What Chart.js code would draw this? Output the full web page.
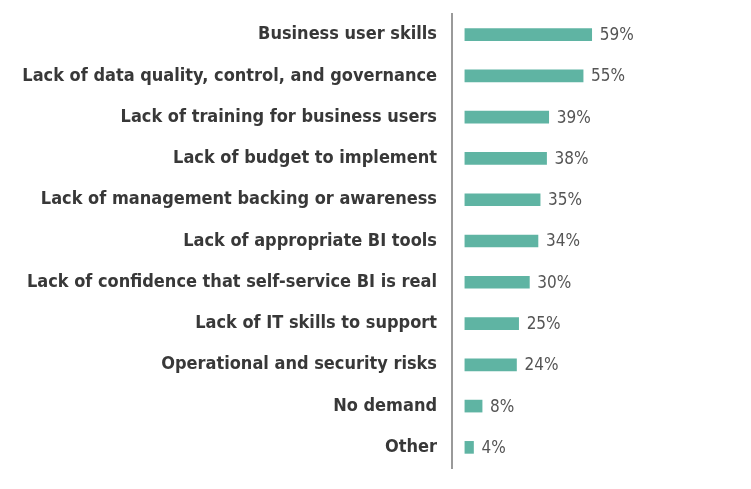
<!DOCTYPE html>
<html>
<head>
<meta charset="utf-8">
<script src="https://cdn.jsdelivr.net/npm/chart.js@4/dist/chart.umd.min.js"></script>
<style>
  html, body { margin: 0; padding: 0; background: #fff; }
  #wrap { width: 751px; height: 489px; }
</style>
</head>
<body>
<div id="wrap"><canvas id="chart"></canvas></div>
<script>
const categories = [
    'Business user skills',
    'Lack of data quality, control, and governance',
    'Lack of training for business users',
    'Lack of budget to implement',
    'Lack of management backing or awareness',
    'Lack of appropriate BI tools',
    'Lack of confidence that self-service BI is real',
    'Lack of IT skills to support',
    'Operational and security risks',
    'No demand',
    'Other'
];
const percents = [59, 55, 39, 38, 35, 34, 30, 25, 24, 8, 4];

// value labels after each bar
const valueLabels = {
    id: 'valueLabels',
    afterDatasetsDraw(chart) {
        const ctx = chart.ctx;
        const meta = chart.getDatasetMeta(0);
        ctx.save();
        ctx.font = '17px "DejaVu Sans Condensed", sans-serif';
        ctx.fillStyle = '#555555';
        ctx.textAlign = 'left';
        ctx.textBaseline = 'middle';
        meta.data.forEach(function (bar, i) {
            ctx.fillText(percents[i] + '%', bar.x + 8, bar.y + 1);
        });
        ctx.restore();
    }
};

var id = document.getElementById("chart").getContext("2d");

var chart = new Chart(id, {
    type: 'bar',
    data: {
        labels: categories,
        datasets: [{
            data: percents,
            backgroundColor: '#5fb4a3',
            barThickness: 12,
            borderSkipped: false
        }]
    },
    options: {
        indexAxis: 'y',
        responsive: true,
        maintainAspectRatio: false,
        animation: false,
        layout: {
            padding: { top: 14, bottom: 21, left: 0, right: 11 }
        },
        plugins: {
            legend: { display: false },
            tooltip: { enabled: false }
        },
        scales: {
            x: {
                display: false,
                min: -6,
                max: 128
            },
            y: {
                afterFit(scale) {
                    scale.width = 452;
                    scale.paddingTop = 0;
                    scale.paddingBottom = 0;
                },
                grid: { display: false },
                border: { display: true, color: '#9a9a9a', width: 2 },
                ticks: {
                    padding: 7,
                    color: '#383838',
                    font: { family: '"DejaVu Sans Condensed", sans-serif', size: 18, weight: 'bold' }
                }
            }
        }
    },
    plugins: [valueLabels]
});
</script>
</body>
</html>
